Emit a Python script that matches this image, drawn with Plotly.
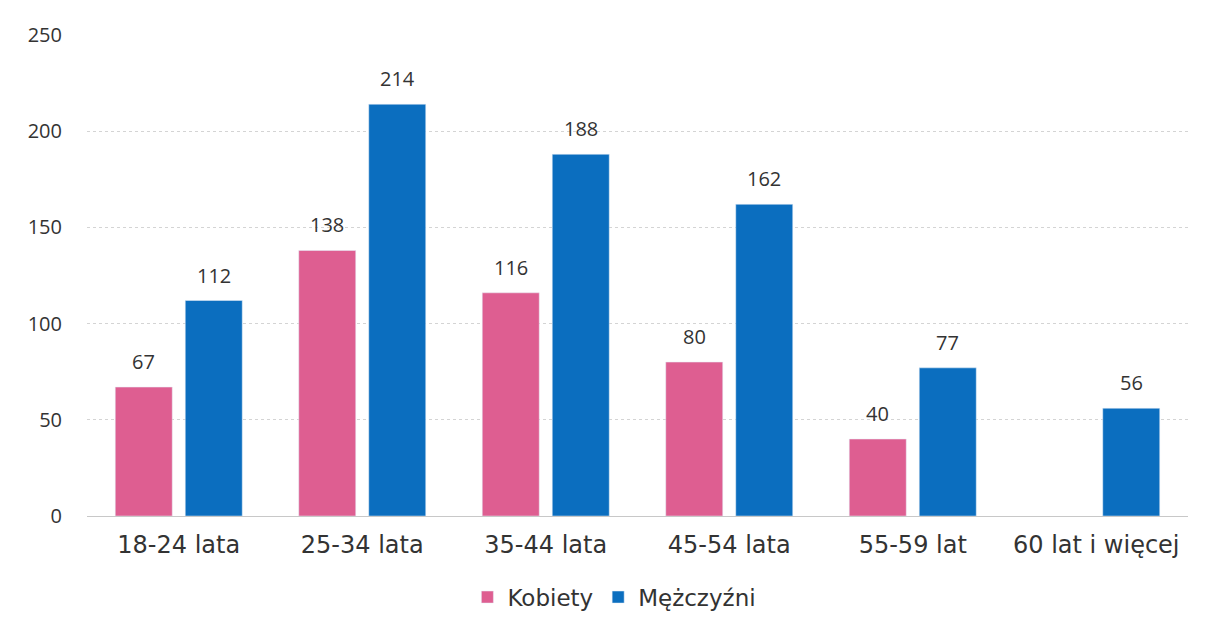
import plotly.graph_objects as go

categories = ["18-24 lata", "25-34 lata", "35-44 lata", "45-54 lata", "55-59 lat", "60 lat i więcej"]
kobiety = [67, 138, 116, 80, 40, None]
mezczyzni = [112, 214, 188, 162, 77, 56]
y_ticks = [0, 50, 100, 150, 200, 250]

PINK = "#de5e91"
BLUE = "#0b6ebf"
TXT = "#333333"

fig = go.Figure()
fig.add_trace(go.Bar(name="Kobiety", x=categories, y=kobiety, marker_color=PINK))
fig.add_trace(go.Bar(name="Mężczyźni", x=categories, y=mezczyzni, marker_color=BLUE))

# value labels above bars
for series, shift in ((kobiety, -35), (mezczyzni, 35)):
    for cat, v in zip(categories, series):
        if v is None:
            continue
        fig.add_annotation(
            x=cat, y=v, text=str(v), showarrow=False,
            xshift=shift, yshift=10, yanchor="bottom",
            font=dict(family="Open Sans, sans-serif", size=20, color=TXT),
        )

# page body has an 8px margin, so the figure is sized/offset accordingly
fig.update_layout(
    width=1189, height=613,
    margin=dict(l=79, r=9, t=27, b=105),
    paper_bgcolor="white", plot_bgcolor="white",
    barmode="group", bargap=0.237, bargroupgap=0.186,
    font=dict(family="DejaVu Sans, sans-serif", color=TXT),
    legend=dict(
        orientation="h", x=0.479, xanchor="center",
        yref="container", y=0.039, yanchor="middle",
        font=dict(family="DejaVu Sans, sans-serif", size=23, color=TXT),
        traceorder="normal",
    ),
    showlegend=True,
)
fig.update_xaxes(
    tickfont=dict(family="DejaVu Sans, sans-serif", size=24, color=TXT),
    showline=False, ticks="", showgrid=False, automargin=False,
    ticklabelstandoff=12,
)
fig.update_yaxes(
    range=[0, 250], tickvals=y_ticks,
    tickfont=dict(family="Open Sans, sans-serif", size=20, color=TXT),
    showgrid=True, gridcolor="#d4d4d4", griddash="dot", gridwidth=1,
    zeroline=True, zerolinecolor="#c8c8c8", zerolinewidth=1,
    ticks="", ticklabelstandoff=24, automargin=False,
)

fig.write_html("out.html")
